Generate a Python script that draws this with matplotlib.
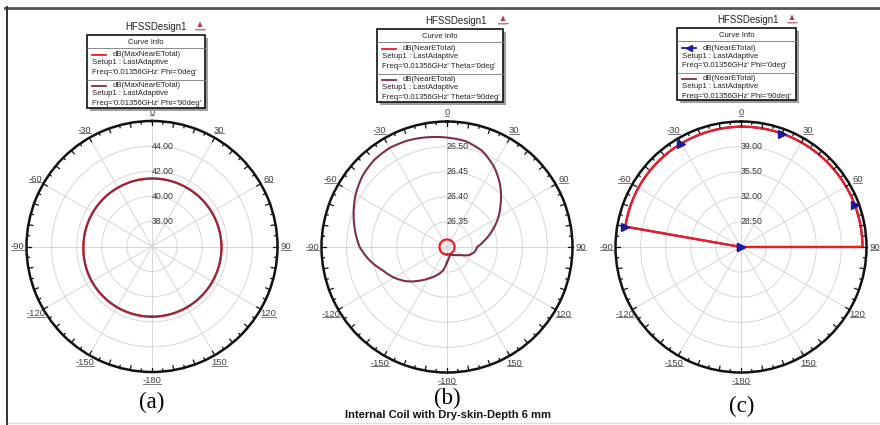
import numpy as np
import matplotlib
matplotlib.use("Agg")
import matplotlib.pyplot as plt
from matplotlib.lines import Line2D
from matplotlib.patches import Rectangle, Polygon

plt.rcParams["font.family"] = ["Liberation Sans", "DejaVu Sans"]

W, H = 880, 425

# ---- data --------------------------------------------------------------
# (a) dB(MaxNearETotal) vs angle
theta_a = [-180, -150, -120, -90, -60, -30, 0, 30, 60, 90, 120, 150, 180]
phi0_a = [41.60, 41.59, 41.55, 41.47, 41.44, 41.42, 41.42, 41.44, 41.49, 41.54, 41.57, 41.59, 41.60]
phi90_a = [41.58, 41.57, 41.53, 41.46, 41.43, 41.41, 41.41, 41.43, 41.48, 41.53, 41.56, 41.58, 41.58]
rings_a = [38.00, 40.00, 42.00, 44.00]
rlim_a = (36.0, 46.0)

# (b) dB(NearETotal), Theta=0deg (small ring) and Theta=90deg (cardioid)
theta_b0 = [-180, -150, -120, -90, -60, -30, 0, 30, 60, 90, 120, 150, 180]
theta0_b = [26.315, 26.315, 26.315, 26.315, 26.315, 26.315, 26.315,
            26.315, 26.315, 26.315, 26.315, 26.315, 26.315]
theta_b = [-180, -170, -160, -150, -140, -130, -120, -110, -100, -90,
           -80, -70, -60, -50, -40, -30, -20, -10, 0,
           10, 20, 30, 40, 50, 60, 70, 80, 90, 100,
           110, 120, 130, 140, 150, 160, 170, 180]
theta90_b = [26.330, 26.348, 26.360, 26.372, 26.388, 26.406, 26.422, 26.436, 26.456, 26.474,
             26.486, 26.498, 26.510, 26.520, 26.526, 26.528, 26.526, 26.522, 26.518,
             26.514, 26.504, 26.486, 26.464, 26.440, 26.418, 26.396, 26.376, 26.360, 26.356,
             26.347, 26.332, 26.325, 26.321, 26.318, 26.317, 26.322, 26.330]
rings_b = [26.35, 26.40, 26.45, 26.50]
rlim_b = (26.30, 26.55)

# (c) dB(NearETotal), Phi sweep; values below the floor sit at the centre
theta_c = [-80, -80, -70, -60, -50, -40, -30, -20, -10, 0,
           10, 20, 30, 40, 50, 60, 70, 80, 90, 90]
val_c = [25.00, 41.38, 41.45, 41.52, 41.57, 41.62, 41.66, 41.70, 41.74, 41.78,
         41.80, 41.82, 41.84, 41.86, 41.88, 41.90, 41.92, 41.93, 41.94, 25.00]
marks_c = [0, 1, 6, 11, 16, 19]
rings_c = [28.50, 32.00, 35.50, 39.00]
rlim_c = (25.0, 42.5)

angle_labels = [0, 30, 60, 90, 120, 150, -180, -150, -120, -90, -60, -30]

RED = "#ee1c24"
MAROON = "#7d2f45"
BLUE = "#1a1aa8"
R = 125.5

fig = plt.figure(figsize=(W / 100, H / 100), dpi=100)
fig.patch.set_facecolor("white")


def fx(x):
    return x / W


def fy(y):
    return 1 - y / H


def fig_line(xs, ys, **kw):
    fig.add_artist(Line2D([fx(v) for v in xs], [fy(v) for v in ys],
                          transform=fig.transFigure, **kw))


def fig_text(x, y, s, **kw):
    return fig.text(fx(x), fy(y), s, **kw)


def curve(ax, th, r, **kw):
    # draw in polar space so segments follow arcs, not chords
    (ln,) = ax.plot(np.radians(th), r, **kw)
    ln.get_path()._interpolation_steps = 40
    return ln


underlined = []


def polar_panel(cx, cy, rlim, rings):
    ax = fig.add_axes([(cx - R) / W, 1 - (cy + R) / H, 2 * R / W, 2 * R / H],
                      projection="polar")
    ax.set_theta_zero_location("N")
    ax.set_theta_direction(-1)
    ax.set_ylim(*rlim)
    ax.set_xticks(np.radians(np.arange(0, 360, 30)))
    ax.set_yticks(rings)
    ax.set_xticklabels([])
    ax.set_yticklabels([])
    ax.tick_params(length=0)
    ax.grid(True, color="#d6d6d6", lw=0.7)
    ax.spines["polar"].set_linewidth(1.8)
    ax.spines["polar"].set_color("#111111")

    # ticks around the rim, every 5 deg, longer every 10 deg
    per_px = (rlim[1] - rlim[0]) / R
    for deg in range(0, 360, 5):
        L = 4.5 if deg % 10 == 0 else 2.5
        t = np.radians(deg)
        ax.plot([t, t], [rlim[1] - L * per_px, rlim[1]], color="#111111",
                lw=0.9, clip_on=False, zorder=6)

    # ring values along the 0 deg spoke
    for v in rings:
        ax.text(0, v, f"{v:.2f}", ha="left", va="center", fontsize=6.3,
                color="#333333", zorder=7)

    # angle labels outside the rim, underlined later
    for deg in angle_labels:
        t = np.radians(deg)
        k = 0.535
        txt = ax.text(0.5 + k * np.sin(t), 0.5 + k * np.cos(t), str(deg),
                      transform=ax.transAxes, ha="center", va="center",
                      fontsize=6.8, color="#444444")
        underlined.append(txt)
    return ax


def header(title_x, title_y, logo_x, box, entries):
    fig_text(title_x, title_y, "HFSSDesign1", ha="center", va="center",
             fontsize=7, color="#222222")
    # small logo: red triangle with caption
    tri = Polygon([(fx(logo_x - 2.5), fy(title_y)), (fx(logo_x + 2.5), fy(title_y)),
                   (fx(logo_x), fy(title_y - 5.5))], closed=True,
                  transform=fig.transFigure, facecolor="#b8374a", edgecolor="none")
    fig.add_artist(tri)
    fig_line([logo_x - 5, logo_x + 5], [title_y + 1.5, title_y + 1.5],
             color="#b06070", lw=0.6)
    fig_text(logo_x, title_y + 3.5, "ANSOFT", ha="center", va="center",
             fontsize=1.6, color="#7a0010")

    x0, y0, x1, y1 = box
    shadow = Rectangle((fx(x0 + 3), fy(y1 + 3)), fx(x1 - x0), (y1 - y0) / H,
                       transform=fig.transFigure, facecolor="#a0a0a0",
                       edgecolor="none", zorder=8)
    fig.add_artist(shadow)
    frame = Rectangle((fx(x0), fy(y1)), fx(x1 - x0), (y1 - y0) / H,
                      transform=fig.transFigure, facecolor="white",
                      edgecolor="#111111", lw=1.2, zorder=9)
    fig.add_artist(frame)
    fig_text((x0 + x1) / 2, y0 + 7.4, "Curve Info", ha="center", va="center",
             fontsize=5.6, color="#222222", zorder=10)
    fig_line([x0, x1], [y0 + 13.4, y0 + 13.4], color="#777777", lw=0.6, zorder=10)
    fig_line([x0, x1], [y0 + 44.7, y0 + 44.7], color="#777777", lw=0.6, zorder=10)

    for i, (label, setup, freq, color, marker) in enumerate(entries):
        base = y0 + 20 + i * 30.7
        fig_line([x0 + 5, x0 + 19], [base, base], color=color, lw=1.3, zorder=10)
        if marker:
            fig.add_artist(Line2D([fx(x0 + 12)], [fy(base)], marker="<", ms=4.5,
                                  color=BLUE, transform=fig.transFigure, zorder=11))
        fig_text(x0 + 26, base, label, ha="left", va="center", fontsize=5.6,
                 color="#222222", zorder=10)
        fig_text(x0 + 5, base + 8, setup, ha="left", va="center", fontsize=5.6,
                 color="#222222", zorder=10)
        fig_text(x0 + 5, base + 17.4, freq, ha="left", va="center", fontsize=5.6,
                 color="#222222", zorder=10)


# ---- panel (a) ---------------------------------------------------------
ax_a = polar_panel(152, 246.5, rlim_a, rings_a)
curve(ax_a, theta_a, phi0_a, color=RED, lw=1.7, zorder=4)
curve(ax_a, theta_a, phi90_a, color=MAROON, lw=1.2, zorder=5)
header(156, 27, 200, (87, 35, 205, 108), [
    ("dB(MaxNearETotal)", "Setup1 : LastAdaptive", "Freq='0.01356GHz' Phi='0deg'", RED, False),
    ("dB(MaxNearETotal)", "Setup1 : LastAdaptive", "Freq='0.01356GHz' Phi='90deg'", MAROON, False),
])

# ---- panel (b) ---------------------------------------------------------
ax_b = polar_panel(447, 247, rlim_b, rings_b)
curve(ax_b, theta_b0, theta0_b, color=RED, lw=1.6, zorder=4)
curve(ax_b, theta_b, theta90_b, color=MAROON, lw=1.5, zorder=5)
header(456, 21, 503, (377, 29, 503, 102), [
    ("dB(NearETotal)", "Setup1 : LastAdaptive", "Freq='0.01356GHz' Theta='0deg'", RED, False),
    ("dB(NearETotal)", "Setup1 : LastAdaptive", "Freq='0.01356GHz' Theta='90deg'", MAROON, False),
])

# ---- panel (c) ---------------------------------------------------------
ax_c = polar_panel(741, 247, rlim_c, rings_c)
curve(ax_c, theta_c, val_c, color=BLUE, lw=1.5, zorder=3)
curve(ax_c, theta_c, val_c, color=RED, lw=1.7, zorder=4)
ax_c.plot(np.radians(theta_c)[marks_c], np.array(val_c)[marks_c], ls="none",
          marker=">", ms=6, color=BLUE, zorder=5, clip_on=False)
header(748, 20, 792, (677, 28, 796, 100), [
    ("dB(NearETotal)", "Setup1 : LastAdaptive", "Freq='0.01356GHz' Phi='0deg'", BLUE, True),
    ("dB(NearETotal)", "Setup1 : LastAdaptive", "Freq='0.01356GHz' Phi='90deg'", MAROON, False),
])

# ---- captions and page frame ------------------------------------------
serif = ["Liberation Serif", "DejaVu Serif"]
fig_text(152, 402, "(a)", ha="center", va="center", fontsize=16.5, family=serif)
fig_text(447, 398, "(b)", ha="center", va="center", fontsize=16.5, family=serif)
fig_text(742, 406, "(c)", ha="center", va="center", fontsize=16.5, family=serif)
fig_text(448, 415, "Internal Coil with Dry-skin-Depth 6 mm", ha="center",
         va="center", fontsize=8, fontweight="bold", color="#111111")

fig_line([5, 880], [8, 8], color="#555555", lw=2.0)
fig_line([6.5, 6.5], [7, 425], color="#333333", lw=1.4)
fig_line([8, 880], [422.5, 422.5], color="#dddddd", lw=1.0)

# underline the angle labels
fig.canvas.draw()
renderer = fig.canvas.get_renderer()
inv = fig.transFigure.inverted()
for t in underlined:
    bb = t.get_window_extent(renderer)
    (ux0, uy), (ux1, _) = inv.transform([(bb.x0 + 0.5, bb.y0 + 1.5), (bb.x1 - 0.5, bb.y0 + 1.5)])
    fig.add_artist(Line2D([ux0, ux1], [uy, uy], color="#666666", lw=0.6,
                          transform=fig.transFigure))

fig.savefig("out.png", dpi=100, facecolor="white")
